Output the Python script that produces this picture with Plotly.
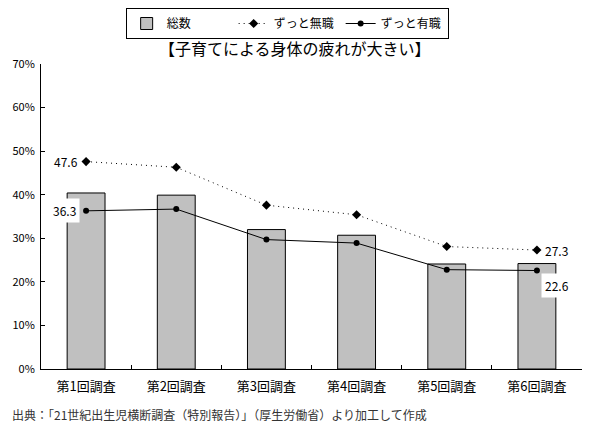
import plotly.graph_objects as go

# 調査回
categories = ["第1回調査", "第2回調査", "第3回調査", "第4回調査", "第5回調査", "第6回調査"]
# 割合 (%)
total = [40.4, 39.9, 32.0, 30.7, 24.1, 24.2]
mushoku = [47.6, 46.3, 37.6, 35.4, 28.1, 27.3]
yushoku = [36.3, 36.7, 29.7, 28.9, 22.8, 22.6]
ytick_vals = [0, 10, 20, 30, 40, 50, 60, 70]
ytick_text = [f"{v}%" for v in ytick_vals]

font_jp = "Noto Sans CJK JP"

fig = go.Figure()
fig.add_trace(go.Bar(
    x=categories, y=total, name="総数",
    marker=dict(color="#C0C0C0", line=dict(color="black", width=1)),
))
fig.add_trace(go.Scatter(
    x=categories, y=mushoku, name="ずっと無職", mode="lines+markers",
    line=dict(color="black", width=1, dash="1px,4px"),
    marker=dict(symbol="diamond", size=7, color="black"),
))
fig.add_trace(go.Scatter(
    x=categories, y=yushoku, name="ずっと有職", mode="lines+markers",
    line=dict(color="black", width=1),
    marker=dict(symbol="circle", size=6, color="black"),
))

# 数値ラベル（最初と最後だけ）
fig.add_annotation(x=categories[0], y=mushoku[0], text=f"{mushoku[0]}",
                   xanchor="right", xshift=-6, showarrow=False)
fig.add_annotation(x=categories[0], y=yushoku[0], text=f"{yushoku[0]}",
                   xanchor="right", xshift=-6, showarrow=False,
                   bgcolor="white", borderpad=3)
fig.add_annotation(x=categories[-1], y=mushoku[-1], text=f"{mushoku[-1]}",
                   xanchor="left", xshift=6, showarrow=False)
fig.add_annotation(x=categories[-1], y=yushoku[-1], text=f"{yushoku[-1]}",
                   xanchor="left", yanchor="top", xshift=4, yshift=-2, showarrow=False,
                   bgcolor="white", borderpad=3)

fig.add_annotation(x=0.47, y=1.0, xref="paper", yref="paper", yanchor="middle", yshift=16,
                   text="【子育てによる身体の疲れが大きい】", showarrow=False,
                   font=dict(size=16, color="black"))
fig.add_annotation(x=-0.057, y=-0.149, xref="paper", yref="paper",
                   xanchor="left", yanchor="middle",
                   text="出典：「21世紀出生児横断調査（特別報告）」（厚生労働省）より加工して作成",
                   showarrow=False, font=dict(size=12, color="#333333"))

# ページの body に 8px の余白が付くので、その分だけ図を小さくしておく
fig.update_layout(
    width=584, height=423,
    margin=dict(l=33, r=10, t=56, b=62, autoexpand=False),
    plot_bgcolor="white", paper_bgcolor="white",
    font=dict(family=font_jp, size=12, color="black"),
    bargap=0.58,
    showlegend=True,
    legend=dict(orientation="h", x=0.455, xanchor="center", y=1.0, yref="container",
                yanchor="top", bordercolor="black", borderwidth=1,
                font=dict(size=12), itemwidth=30, tracegroupgap=0,
                entrywidth=62, entrywidthmode="pixels"),
)
fig.update_xaxes(showline=True, linecolor="black", linewidth=1, automargin=False,
                 ticks="inside", ticklen=4, tickcolor="black", tickson="boundaries",
                 ticklabelstandoff=5,
                 tickfont=dict(size=13), showgrid=False)
fig.update_yaxes(range=[0, 70], tickvals=ytick_vals, ticktext=ytick_text, automargin=False,
                 showline=True, linecolor="black", linewidth=1,
                 ticks="inside", ticklen=4, tickcolor="black", ticklabelstandoff=3,
                 showgrid=False, zeroline=False, tickfont=dict(size=11))

fig.write_html("out.html")
